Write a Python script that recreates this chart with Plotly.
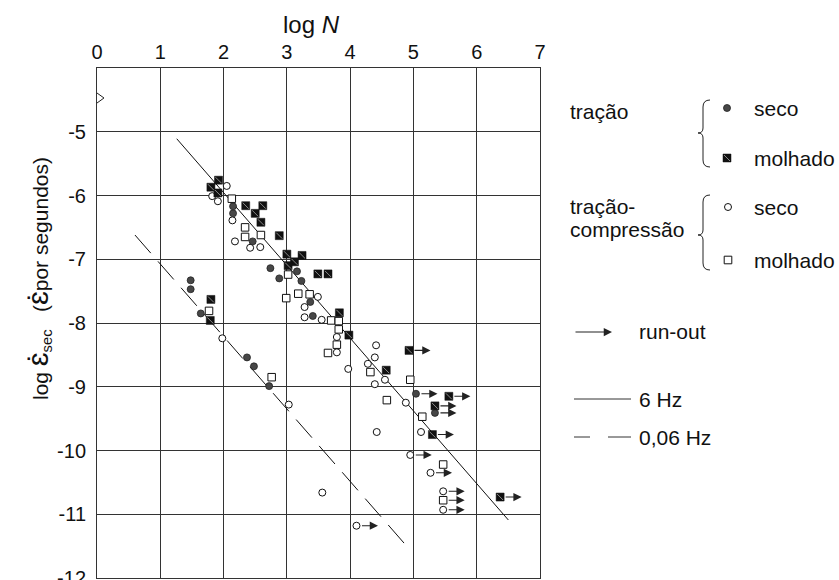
import plotly.graph_objects as go

# ---------------- data ----------------
# tração, seco (filled circles)
tr_seco_x = [1.48, 1.48, 1.64, 2.37, 2.48, 2.72, 2.15, 2.15, 2.46, 2.74, 2.88, 3.16, 3.23, 3.37, 3.41, 5.04, 5.34]
tr_seco_y = [-7.33, -7.47, -7.85, -8.54, -8.68, -8.99, -6.17, -6.28, -6.72, -7.14, -7.30, -7.19, -7.34, -7.67, -7.89, -9.11, -9.41]
tr_seco_ro = [0, 0, 0, 0, 0, 0, 0, 0, 0, 0, 0, 0, 0, 0, 0, 1, 1]

# tração, molhado (filled squares)
tr_molh_x = [1.92, 1.80, 1.91, 2.35, 2.62, 2.50, 2.59, 2.88, 3.00, 3.24, 3.12, 3.02, 3.49, 3.65, 3.83, 3.98, 1.80, 1.79,
             4.93, 4.57, 5.56, 5.34, 5.30, 6.37]
tr_molh_y = [-5.76, -5.87, -5.96, -6.16, -6.16, -6.28, -6.42, -6.63, -6.92, -6.94, -7.04, -7.10, -7.23, -7.23, -7.84, -8.19, -7.63, -7.96,
             -8.43, -8.74, -9.15, -9.30, -9.75, -10.73]
tr_molh_ro = [0] * 18 + [1, 0, 1, 1, 1, 1]

# tração-compressão, seco (open circles)
tc_seco_x = [2.05, 1.82, 1.91, 2.14, 2.18, 2.42, 2.58, 3.49, 3.28, 3.28, 3.55, 3.79, 3.79, 4.41, 3.97, 4.39, 4.28, 4.55, 4.39, 4.88,
             4.42, 5.12, 4.95, 5.27, 5.47, 5.47, 3.56, 4.10, 1.98, 3.03]
tc_seco_y = [-5.85, -6.01, -6.09, -6.39, -6.72, -6.82, -6.81, -7.59, -7.75, -7.91, -7.95, -8.22, -8.46, -8.35, -8.72, -8.54, -8.64, -8.89, -8.96, -9.25,
             -9.71, -9.71, -10.07, -10.35, -10.64, -10.93, -10.66, -11.18, -8.24, -9.28]
tc_seco_ro = [0] * 22 + [1, 1, 1, 1, 0, 1, 0, 0]

# tração-compressão, molhado (open squares)
tc_molh_x = [2.13, 2.34, 2.34, 2.59, 3.02, 3.18, 2.99, 3.36, 3.70, 3.82, 3.82, 3.79, 3.65, 4.32, 4.95, 4.58, 5.14, 5.47, 5.47, 1.77, 2.76]
tc_molh_y = [-6.05, -6.50, -6.65, -6.62, -7.24, -7.54, -7.61, -7.55, -7.96, -7.97, -8.10, -8.34, -8.47, -8.77, -8.89, -9.21, -9.47, -10.22, -10.78, -7.81, -8.85]
tc_molh_ro = [0] * 18 + [1, 0, 0]

# fitted lines
line_6hz_x = [1.26, 6.50]
line_6hz_y = [-5.11, -11.09]
line_006hz_x = [0.60, 4.92]
line_006hz_y = [-6.62, -11.53]

x_ticks = [0, 1, 2, 3, 4, 5, 6, 7]
y_ticks = [-12, -11, -10, -9, -8, -7, -6, -5]
y_tick_labels = ["-12", "-11", "-10", "-9", "-8", "-7", "-6", "-5"]

# ---------------- layout constants ----------------
W, H = 839, 580
ML, MR, MT, MB = 97, 299, 68, 2
PW, PH = W - ML - MR, H - MT - MB
FONT = "Liberation Sans, Arial, sans-serif"
RUNOUT_LEN = 0.34


def px(xp):
    return (xp - ML) / PW


def py(yp):
    return (H - MB - yp) / PH


fig = go.Figure()

fig.add_trace(go.Scatter(x=line_6hz_x, y=line_6hz_y, mode="lines",
                         line=dict(color="#111", width=1), showlegend=False, hoverinfo="skip"))
fig.add_trace(go.Scatter(x=line_006hz_x, y=line_006hz_y, mode="lines",
                         line=dict(color="#111", width=1, dash="24px,11px"), showlegend=False, hoverinfo="skip"))

fig.add_trace(go.Scatter(x=tc_seco_x, y=tc_seco_y, mode="markers",
                         marker=dict(symbol="circle", size=7, color="white", line=dict(color="#111", width=1)),
                         showlegend=False))
fig.add_trace(go.Scatter(x=tc_molh_x, y=tc_molh_y, mode="markers",
                         marker=dict(symbol="square", size=7.5, color="white", line=dict(color="#111", width=1)),
                         showlegend=False))
fig.add_trace(go.Scatter(x=tr_seco_x, y=tr_seco_y, mode="markers",
                         marker=dict(symbol="circle", size=7, color="#474747", line=dict(color="#222", width=0.8)),
                         showlegend=False))
fig.add_trace(go.Scatter(x=tr_molh_x, y=tr_molh_y, mode="markers",
                         marker=dict(symbol="square", size=8, color="#111", line=dict(color="#111", width=0.5)),
                         showlegend=False))
fig.add_trace(go.Scatter(x=tr_molh_x, y=tr_molh_y, mode="markers",
                         marker=dict(symbol="line-nw", size=6, color="#888", line=dict(color="#888", width=1)),
                         showlegend=False, hoverinfo="skip"))

annotations = []
for xs, ys, ro in [(tr_seco_x, tr_seco_y, tr_seco_ro), (tr_molh_x, tr_molh_y, tr_molh_ro),
                   (tc_seco_x, tc_seco_y, tc_seco_ro), (tc_molh_x, tc_molh_y, tc_molh_ro)]:
    for x, y, r in zip(xs, ys, ro):
        if r:
            annotations.append(dict(x=x + RUNOUT_LEN, y=y, ax=x, ay=y, xref="x", yref="y", axref="x", ayref="y",
                                    text="", showarrow=True, arrowhead=2, arrowsize=1.5, arrowwidth=1.1,
                                    arrowcolor="#222", startstandoff=4))

# titles
annotations.append(dict(x=px(311), y=py(24), xref="paper", yref="paper", text="log <i>N</i>",
                        xanchor="center", yanchor="middle",
                        showarrow=False, font=dict(size=24, family=FONT, color="#111")))
annotations.append(dict(x=px(38), y=py(279), xref="paper", yref="paper", textangle=-90,
                        xanchor="center", yanchor="middle",
                        text="log <span style='font-size:30px'>ɛ̇</span><sub>sec</sub>   (<span style='font-size:30px'>ɛ̇</span>por segundos)",
                        showarrow=False, font=dict(size=21, family=FONT, color="#111")))

# legend texts
def leg_text(xp, yp, t, size=21):
    annotations.append(dict(x=px(xp), y=py(yp), xref="paper", yref="paper", text=t, showarrow=False,
                            xanchor="left", yanchor="middle", font=dict(size=size, family=FONT, color="#111")))

leg_text(568, 111, "tração")
leg_text(568, 206, "tração-")
leg_text(568, 229, "compressão")
leg_text(752, 108, "seco")
leg_text(752, 158, "molhado")
leg_text(752, 207, "seco")
leg_text(752, 260, "molhado")
leg_text(637, 332, "run-out")
leg_text(637, 399, "6 Hz")
leg_text(637, 437, "0,06 Hz")

annotations.append(dict(x=px(612), y=py(332), ax=-38, ay=0, xref="paper", yref="paper", text="",
                        showarrow=True, arrowhead=2, arrowsize=1.5, arrowwidth=1.1, arrowcolor="#222"))

shapes = []


def brace(x_out, x_mid, x_tip, top, bot, tip):
    pts = [("M", [(x_out, top)]),
           ("Q", [(x_mid, top), (x_mid, top + 7)]),
           ("L", [(x_mid, tip - 5)]),
           ("Q", [(x_mid, tip), (x_tip, tip)]),
           ("Q", [(x_mid, tip), (x_mid, tip + 5)]),
           ("L", [(x_mid, bot - 7)]),
           ("Q", [(x_mid, bot), (x_out, bot)])]
    s = ""
    for cmd, ps in pts:
        s += cmd + " " + " ".join(f"{px(a):.5f},{py(b):.5f}" for a, b in ps) + " "
    return dict(type="path", path=s.strip(), xref="paper", yref="paper", line=dict(color="#222", width=1))


shapes.append(brace(710, 703, 698, 100, 167, 133))
shapes.append(brace(710, 703, 698, 195, 270, 235))

# legend markers
def leg_marker(xp, yp, kind):
    r = 3.5
    if kind == "circle_filled":
        shapes.append(dict(type="circle", xref="paper", yref="paper", x0=px(xp - r), x1=px(xp + r),
                           y0=py(yp + r), y1=py(yp - r), fillcolor="#474747", line=dict(color="#222", width=0.8)))
    elif kind == "circle_open":
        shapes.append(dict(type="circle", xref="paper", yref="paper", x0=px(xp - r), x1=px(xp + r),
                           y0=py(yp + r), y1=py(yp - r), fillcolor="white", line=dict(color="#111", width=1)))
    elif kind == "square_filled":
        shapes.append(dict(type="rect", xref="paper", yref="paper", x0=px(xp - 4), x1=px(xp + 4),
                           y0=py(yp + 4), y1=py(yp - 4), fillcolor="#111", line=dict(color="#111", width=0.5)))
        shapes.append(dict(type="line", xref="paper", yref="paper", x0=px(xp - 3), x1=px(xp + 3),
                           y0=py(yp - 3), y1=py(yp + 3), line=dict(color="#888", width=1)))
    else:
        shapes.append(dict(type="rect", xref="paper", yref="paper", x0=px(xp - 3.8), x1=px(xp + 3.8),
                           y0=py(yp + 3.8), y1=py(yp - 3.8), fillcolor="white", line=dict(color="#111", width=1)))

leg_marker(727, 108, "circle_filled")
leg_marker(727, 158, "square_filled")
leg_marker(728, 207, "circle_open")
leg_marker(728, 260, "square_open")

# legend lines
shapes.append(dict(type="line", xref="paper", yref="paper", x0=px(574), x1=px(631), y0=py(399), y1=py(399),
                   line=dict(color="#333", width=1)))
shapes.append(dict(type="line", xref="paper", yref="paper", x0=px(574), x1=px(590), y0=py(437), y1=py(437),
                   line=dict(color="#333", width=1)))
shapes.append(dict(type="line", xref="paper", yref="paper", x0=px(608), x1=px(631), y0=py(437), y1=py(437),
                   line=dict(color="#333", width=1)))

# axis break mark
shapes.append(dict(type="path", xref="paper", yref="paper",
                   path=f"M {px(97):.5f},{py(93):.5f} L {px(104):.5f},{py(98):.5f} L {px(97):.5f},{py(103):.5f}",
                   line=dict(color="#222", width=1)))

fig.update_layout(
    width=W, height=H,
    margin=dict(l=ML, r=MR, t=MT, b=MB, autoexpand=False),
    paper_bgcolor="white", plot_bgcolor="white",
    showlegend=False,
    annotations=annotations,
    shapes=shapes,
    font=dict(family=FONT, color="#111"),
    xaxis=dict(range=[0, 7], side="top", tickvals=x_ticks, ticks="", showgrid=True, gridcolor="#333",
               gridwidth=1, zeroline=False, showline=True, linecolor="#333", linewidth=1, mirror=True,
               automargin=False, tickfont=dict(size=20, family=FONT, color="#111")),
    yaxis=dict(range=[-12, -4], tickvals=y_ticks, ticktext=y_tick_labels, ticks="", showgrid=True,
               gridcolor="#333", gridwidth=1, zeroline=False, showline=True, linecolor="#333", linewidth=1,
               mirror=True, ticklabelstandoff=6, ticklabeloverflow="allow", automargin=False,
               tickfont=dict(size=20, family=FONT, color="#111")),
)

fig.write_html("out.html")
